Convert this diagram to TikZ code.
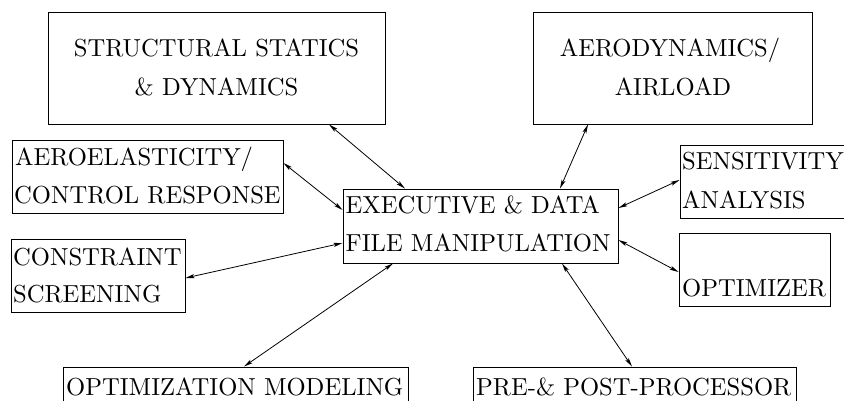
\documentclass[tikz,border=0pt]{standalone}
\usepackage{fontspec}
\setmainfont{lmroman10-regular.otf}
\usetikzlibrary{arrows.meta}
\begin{document}
\begin{tikzpicture}[x=1pt,y=-1pt,
  box/.style={draw,line width=0.9pt,inner sep=0pt,minimum width=#1},
  lbl/.style={inner sep=0pt,anchor=base west,font=\fontsize{24.6}{30}\selectfont},
  lblc/.style={inner sep=0pt,anchor=base,font=\fontsize{24.6}{30}\selectfont},
  link/.style={line width=0.8pt,{Stealth[length=9pt,width=4pt,inset=2pt]}-{Stealth[length=9pt,width=4pt,inset=2pt]}}]
\useasboundingbox (0,0) rectangle (844,400);
% boxes
\node[box=337pt,minimum height=112pt] (struct) at (216.5,68) {};
\node[box=279pt,minimum height=112pt] (aero) at (672.5,68) {};
\node[box=271pt,minimum height=73pt] (aeroel) at (147.5,176.5) {};
\node[box=174pt,minimum height=73pt] (constr) at (98,275.5) {};
\node[box=275pt,minimum height=74pt] (exec) at (480.5,226) {};
\node[box=170pt,minimum height=73pt] (sens) at (765,181.5) {};
\node[box=151pt,minimum height=73pt] (optim) at (754.5,269.5) {};
\node[box=345pt,minimum height=46pt] (optmod) at (235.5,390) {};
\node[box=323pt,minimum height=46pt] (prepost) at (634.5,390) {};
% texts
\node[lblc] (t1a) at (216.5,56.5) {STRUCTURAL STATICS};
\node[lblc] (t1b) at (216.5,95) {\& DYNAMICS};
\node[lblc] (t2a) at (670,56.5) {AERODYNAMICS/};
\node[lblc] (t2b) at (673,95) {AIRLOAD};
\node[lbl] (t3a) at (15,165) {AEROELASTICITY/};
\node[lbl] (t3b) at (14,203) {CONTROL RESPONSE};
\node[lbl] (t4a) at (13,265) {CONSTRAINT};
\node[lbl] (t4b) at (13,302) {SCREENING};
\node[lbl] (t5a) at (345.5,213.3) {EXECUTIVE \& DATA};
\node[lbl] (t5b) at (345.5,251.7) {FILE MANIPULATION};
\node[lbl] (t6a) at (682,169.3) {SENSITIVITY};
\node[lbl] (t6b) at (682,208.3) {ANALYSIS};
\node[lbl] (t7) at (682,296.7) {OPTIMIZER};
\node[lbl] (t8) at (66,395) {OPTIMIZATION MODELING};
\node[lbl] (t9) at (476,395) {PRE-\& POST-PROCESSOR};
% connectors
\draw[link] ([xshift=112.5pt]struct.south) -- ([xshift=-75.5pt]exec.north);
\draw[link] ([xshift=-84.5pt]aero.south) -- ([xshift=79.5pt]exec.north);
\draw[link] ([yshift=13.5pt]aeroel.east) -- ([yshift=16pt]exec.west);
\draw[link] ([yshift=-2.5pt]constr.east) -- ([yshift=-17pt]exec.west);
\draw[link] ([yshift=1.5pt]sens.west) -- ([yshift=18pt]exec.east);
\draw[link] ([yshift=-2.5pt]optim.west) -- ([yshift=-14pt]exec.east);
\draw[link] ([xshift=8.5pt]optmod.north) -- ([xshift=-87.5pt]exec.south);
\draw[link] ([xshift=-2.5pt]prepost.north) -- ([xshift=81.5pt]exec.south);
\end{tikzpicture}
\end{document}
